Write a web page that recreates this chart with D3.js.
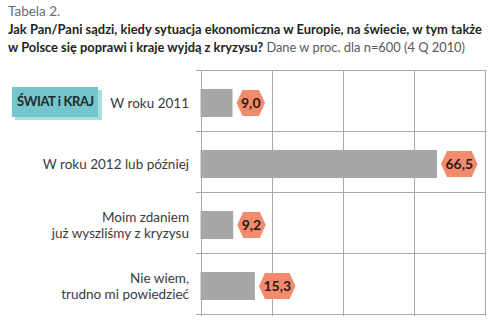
<!DOCTYPE html>
<html>
<head>
<meta charset="utf-8">
<script src="https://cdn.jsdelivr.net/npm/d3@7"></script>
<style>
  html, body { margin: 0; padding: 0; background: #fff; }
  svg { display: block; }
</style>
</head>
<body>
<svg id="chart" width="503" height="332"></svg>
<script>
// Survey answers (percent, n=600, 4 Q 2010)
const categories = [
  ["W roku 2011"],
  ["W roku 2012 lub później"],
  ["Moim zdaniem", "już wyszliśmy z kryzysu"],
  ["Nie wiem,", "trudno mi powiedzieć"]
];
const values = [9.0, 66.5, 9.2, 15.3];
const valueLabels = ["9,0", "66,5", "9,2", "15,3"];
const gridTicks = [0, 20, 40, 60, 80];

const svg = d3.select("#chart");
const font = "Lato, 'Open Sans', sans-serif";

// Heading
const head = svg.append("g").attr("font-family", font).attr("font-size", 13.5);
head.append("text").attr("x", 8).attr("y", 16).attr("fill", "#6d6e71").text("Tabela 2.");
head.append("text").attr("x", 8).attr("y", 34).attr("fill", "#231f20").attr("font-weight", 700)
  .attr("textLength", 474).attr("lengthAdjust", "spacingAndGlyphs")
  .text("Jak Pan/Pani sądzi, kiedy sytuacja ekonomiczna w Europie, na świecie, w tym także");
const l2 = head.append("text").attr("x", 8).attr("y", 52)
  .attr("textLength", 457).attr("lengthAdjust", "spacingAndGlyphs");
l2.append("tspan").attr("fill", "#231f20").attr("font-weight", 700).text("w Polsce się poprawi i kraje wyjdą z kryzysu? ");
l2.append("tspan").attr("fill", "#58595b").text("Dane w proc. dla n=600 (4 Q 2010)");

// Scales
const x = d3.scaleLinear().domain([0, 80]).range([200.5, 485]);
const y = d3.scaleBand().domain(d3.range(values.length)).range([70, 314]);

// Grid
const grid = svg.append("g").attr("stroke", "#a7a9ac").attr("stroke-width", 1);
gridTicks.forEach(t => {
  grid.append("line").attr("x1", Math.round(x(t)) + 0.5).attr("x2", Math.round(x(t)) + 0.5)
    .attr("y1", 70).attr("y2", 316);
});
y.domain().concat([values.length]).forEach(i => {
  const yy = i < values.length ? y(i) : 314;
  grid.append("line").attr("x1", 196).attr("x2", Math.round(x(80)) + 0.5)
    .attr("y1", Math.round(yy) + 0.5).attr("y2", Math.round(yy) + 0.5);
});

// Bars
const barH = 28;
const cy = i => y(i) + y.bandwidth() / 2 + 2.5;
svg.append("g").selectAll("rect").data(values).join("rect")
  .attr("x", x(0))
  .attr("y", (d, i) => cy(i) - barH / 2)
  .attr("width", d => x(d) - x(0))
  .attr("height", barH)
  .attr("fill", "#a7a7aa");

// Category labels, one text per line
const lab = svg.append("g").attr("font-family", font).attr("font-size", 13.5)
  .attr("fill", "#3a3a3c").attr("text-anchor", "end");
categories.forEach((lines, i) => {
  const first = cy(i) + 4.5 - (lines.length - 1) * 7.5;
  lines.forEach((s, k) => lab.append("text").attr("x", 189).attr("y", first + k * 15.5).text(s));
});

// Value badges (hexagons)
const vg = svg.append("g").attr("font-family", font).attr("font-size", 14).attr("font-weight", 700);
values.forEach((v, i) => {
  const g = vg.append("g");
  const txt = g.append("text").attr("text-anchor", "middle").attr("fill", "#2a1a14").text(valueLabels[i]);
  const tw = txt.node().getComputedTextLength();
  const w = tw + 9, h = 26, left = x(v) + 4, c = cy(i);
  const pts = [[left, c], [left + 6, c - h / 2], [left + w - 6, c - h / 2], [left + w, c],
               [left + w - 6, c + h / 2], [left + 6, c + h / 2]];
  g.insert("polygon", "text").attr("points", pts.map(p => p.join(",")).join(" ")).attr("fill", "#f28b6d");
  txt.attr("x", left + w / 2).attr("y", c + 5);
});

// Section badge
const b = svg.append("g");
b.append("rect").attr("x", 15).attr("y", 90).attr("width", 87).attr("height", 30).attr("fill", "#a9dde1");
b.append("rect").attr("x", 12).attr("y", 87).attr("width", 86).attr("height", 30).attr("fill", "#74c6cc");
b.append("text").attr("x", 17).attr("y", 106).attr("font-family", font).attr("font-size", 13)
  .attr("font-weight", 700).attr("letter-spacing", -0.4).attr("fill", "#1f2a2c").text("ŚWIAT i KRAJ");
</script>
</body>
</html>
